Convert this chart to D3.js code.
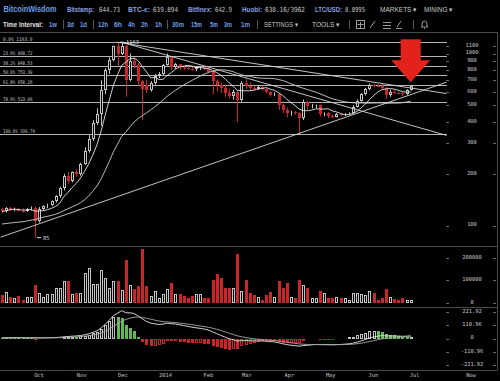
<!DOCTYPE html>
<html>
<head>
<meta charset="utf-8">
<script src="https://cdnjs.cloudflare.com/ajax/libs/d3/7.8.5/d3.min.js"></script>
<style>
  body { margin: 0; background: #000; }
  svg { display: block; }
  text { font-family: "DejaVu Sans Mono", monospace; }
</style>
</head>
<body>
<svg id="chart" width="500" height="381"></svg>
<script>
// ---- data ----
var candleStart = "2013-09-07";   // first 3-day candle
var candleDays = 3;

// closes before the visible window (only used to warm up the moving averages)
var priorCloses = [108, 100, 104, 108, 102, 97, 90, 80, 70, 76, 93, 98, 90, 91, 95, 96, 104, 104, 106, 103,
                   104, 99, 102, 113, 113, 118, 127, 127, 122];

// open, high, low, close
var ohlc = [
  [124,127,118,121],[121,128,119,126],[126,128,122,123],[123,127,121,125],[125,127,121,122],
  [122,126,119,121],[121,126,120,124],[124,129,122,127],[127,129,85,106],[106,128,104,125],
  [125,131,122,129],[129,134,126,132],[132,140,130,138],[138,150,136,148],[148,168,145,165],
  [165,200,160,195],[195,205,175,182],[182,206,178,204],[204,212,192,198],[198,232,195,228],
  [228,285,225,272],[272,335,265,318],[318,410,310,395],[395,480,385,445],[445,700,380,610],
  [610,820,580,800],[800,950,760,920],[920,1110,900,1100],[1100,1163,850,1000],[1000,1150,980,1100],
  [1100,1120,560,700],[700,1000,690,900],[900,950,820,860],[860,880,650,690],[690,700,410,620],
  [660,700,590,610],[610,690,600,670],[670,760,660,740],[740,780,720,760],[760,870,750,860],
  [860,1000,850,950],[950,970,800,830],[830,880,815,865],[865,870,800,830],[830,845,800,822],
  [822,840,805,815],[815,835,795,808],[808,840,790,830],[830,845,800,835],[835,840,800,815],
  [815,820,770,785],[785,800,580,690],[690,705,600,655],[655,680,590,630],[630,660,560,590],
  [590,625,545,565],[565,615,540,600],[600,605,400,540],[540,690,525,675],[675,712,620,650],
  [650,680,610,630],[630,650,610,622],[622,650,615,640],[640,650,610,622],[622,628,585,598],
  [598,605,560,575],[575,595,565,585],[585,590,470,500],[500,510,450,470],[470,485,425,448],
  [448,465,435,455],[455,462,440,448],[448,455,340,420],[420,540,410,520],[520,530,470,492],
  [492,510,480,500],[498,505,480,502],[502,505,430,445],[445,455,432,448],[448,455,420,435],
  [435,440,420,428],[428,450,425,445],[445,450,430,438],[438,450,432,446],[446,455,440,452],
  [452,500,448,490],[490,540,485,530],[530,590,525,580],[580,630,570,620],[620,670,610,660],
  [660,670,635,648],[650,662,640,645],[645,670,620,632],[632,640,545,570],[570,615,560,600],
  [600,612,585,592],[592,600,580,588],[588,595,565,578],[578,620,575,612],[612,650,608,644.73]
];

var volume = [
  34000,49000,27000,20000,31000,12000,24000,24000,79000,42000,
  27000,37000,37000,64000,64000,98000,98000,37000,42000,45000,
  131000,154000,82000,82000,146000,109000,64000,97000,97000,57000,
  188000,79000,60000,76000,238000,76000,31000,54000,20000,37000,
  60000,87000,39000,39000,30000,20000,30000,39000,37000,20000,
  20000,101000,127000,109000,64000,64000,66000,216000,54000,101000,
  42000,34000,27000,12000,34000,49000,27000,95000,64000,86000,
  27000,20000,101000,79000,64000,23000,23000,52000,42000,23000,
  23000,27000,20000,20000,12000,42000,42000,37000,34000,54000,
  42000,12000,23000,61000,24000,17000,12000,20000,12000,12000
];

var fibPct = ["0.0%", "23.6%", "38.2%", "50.0%", "61.8%", "78.6%", "100.0%"];
var fibPrice = [1163.0, 968.72, 848.53, 753.39, 658.26, 523.06, 339.79];

var priceTicks = [1100, 1000, 900, 800, 700, 600, 500, 400, 300, 200, 100];
var volumeTicks = [200000, 100000, 0];
var macdTicks = [221.92, 110.96, 0, -110.96, -221.92];

var monthDates = ["2013-10-01","2013-11-01","2013-12-01","2014-01-01","2014-02-01",
                  "2014-03-01","2014-04-01","2014-05-01","2014-06-01","2014-07-01"];
var monthLabels = ["Oct","Nov","Dec","2014","Feb","Mar","Apr","May","Jun","Jul"];

// hand-drawn trend lines: [date, price] -> [date, price]
var trendLines = [
  [["2013-11-30", 1163], ["2014-07-27", 585]],
  [["2013-12-03", 1163], ["2014-07-27", 334]],
  [["2013-09-06", 85.5], ["2014-07-27", 681]]
];

var tickers = [["Bitstamp:", "644.73"], ["BTC-e:", "639.894"], ["Bitfinex:", "642.9"],
               ["Huobi:", "638.16/3962"], ["LTC/USD:", "8.8995"]];
var menus = ["MARKETS \u25BE", "MINING \u25BE"];
var intervals = ["1w", "3d", "1d", "12h", "6h", "4h", "2h", "1h", "30m", "15m", "5m", "3m", "1m"];
var tools = ["SETTINGS \u25BE", "TOOLS \u25BE"];

// ---- setup ----
var parse = d3.timeParse("%Y-%m-%d");
var svg = d3.select("#chart");
var UP = "#c4c4c4", DOWN = "#cc2529", GREEN = "#5dbb4f", LINE = "#b4b4b4";

svg.append("rect").attr("width", 500).attr("height", 381).attr("fill", "#000");

var x = d3.scaleTime().domain([parse("2013-10-01"), parse("2014-07-01")]).range([35, 410.7]);
var y = d3.scaleLog().domain([100, 1000]).range([225.5, 53.5]);
var yVol = d3.scaleLinear().domain([0, 200000]).range([302.7, 257.7]);
var yMacd = d3.scaleLinear().domain([macdTicks[4], macdTicks[0]]).range([365.3, 311.7]);

var start = parse(candleStart);
var candles = ohlc.map(function (d, i) {
  return { date: d3.timeDay.offset(start, candleDays * i), o: d[0], h: d[1], l: d[2], c: d[3],
           v: volume[i], up: d[3] >= d[0] };
});
function px(d) { return Math.round(x(d.date)); }

// indicators (MA7, MA30, MACD 12/26/9)
var allCloses = priorCloses.concat(ohlc.map(function (d) { return d[3]; }));
var off = priorCloses.length;
function sma(arr, n) {
  return arr.map(function (v, i) { return i < n - 1 ? null : d3.mean(arr.slice(i - n + 1, i + 1)); });
}
function ema(arr, n) {
  var k = 2 / (n + 1), prev = arr[0];
  return arr.map(function (v, i) { prev = i ? prev + k * (v - prev) : v; return prev; });
}
var ma7 = sma(allCloses, 7).slice(off);
var ma30 = sma(allCloses, 30).slice(off);
var e12 = ema(allCloses, 12), e26 = ema(allCloses, 26);
var difAll = e12.map(function (v, i) { return v - e26[i]; });
var deaAll = ema(difAll, 9);
var histAll = difAll.map(function (v, i) { return 2 * (v - deaAll[i]); });
candles.forEach(function (d, i) {
  d.ma7 = ma7[i]; d.ma30 = ma30[i];
  d.dif = difAll[i + off]; d.dea = deaAll[i + off]; d.hist = histAll[i + off];
  d.prevHist = histAll[i + off - 1];
});

// clip areas
var defs = svg.append("defs");
[["clipMain", 33, 213], ["clipVol", 247, 59], ["clipMacd", 308, 62]].forEach(function (c) {
  defs.append("clipPath").attr("id", c[0]).append("rect")
    .attr("x", 0).attr("y", c[1]).attr("width", 447).attr("height", c[2]);
});

// ---- header ----
var header = svg.append("g").style("font-family", "'Liberation Sans', Arial, sans-serif");
function hText(t, xPos, yPos, w, color, bold, fs, mono) {
  header.append("text").attr("x", xPos).attr("y", yPos).text(t)
    .attr("fill", color).attr("font-size", fs || 7.5)
    .attr("font-weight", bold ? "bold" : "normal")
    .style("font-family", mono ? "'DejaVu Sans Mono', monospace" : "'Liberation Sans', Arial, sans-serif")
    .attr("textLength", w).attr("lengthAdjust", "spacingAndGlyphs");
}
hText("BitcoinWisdom", 3.5, 12, 53, "#6d9fe8", true, 8.5);
var tickLabelX = [67, 128, 188, 242, 315], tickLabelW = [27, 22, 24, 20, 27];
var tickValX = [99, 153, 215, 265, 345], tickValW = [21, 25, 17, 40, 20];
tickers.forEach(function (t, i) {
  hText(t[0], tickLabelX[i], 11.5, tickLabelW[i], "#8c9fe4", true, 7);
  hText(t[1], tickValX[i], 11.5, tickValW[i], "#c8c8c8", false, 7, true);
});
hText(menus[0], 380, 11.5, 37, "#c8c8c8", false, 7);
hText(menus[1], 424, 11.5, 29, "#c8c8c8", false, 7);

hText("Time Interval:", 3, 27, 40, "#e0e0e0", true, 7);
var intX = [49, 67, 80, 98, 114, 128, 141, 155, 172, 191, 210, 224, 241];
var intW = [8, 7, 7, 10, 8, 7, 7, 7, 12, 11, 8, 8, 9];
intervals.forEach(function (t, i) { hText(t, intX[i], 27, intW[i], "#6d9fe8", true, 7); });
[63, 93, 167, 257, 349, 413].forEach(function (sx) {
  header.append("line").attr("x1", sx + 0.5).attr("x2", sx + 0.5).attr("y1", 20).attr("y2", 29)
    .attr("stroke", "#555");
});
hText(tools[0], 264, 27, 34, "#c8c8c8", false, 7);
hText(tools[1], 312, 27, 28, "#c8c8c8", false, 7);

// tool icons
var icons = header.append("g").attr("stroke", "#9a9a9a").attr("fill", "none");
icons.append("rect").attr("x", 356.5).attr("y", 20.5).attr("width", 8).attr("height", 8);
icons.append("path").attr("d", "M360.5,22v6M357.5,24.5h6");
icons.append("path").attr("d", "M370,28L375,21");
icons.append("path").attr("d", "M383,22.5h8M383,25.5h8M383,28.5h8").attr("stroke-width", 1.2);
icons.append("path").attr("d", "M396,28.5h6M397,27L401,21");
icons.append("path").attr("d", "M421,27h7M422,27v-3a2.5,3 0 0 1 5,0v3M424.5,28v1");

// panel separators
var frame = svg.append("g").attr("stroke", "#4a4a4a").attr("shape-rendering", "crispEdges");
[32, 246, 307, 370].forEach(function (sy) {
  frame.append("line").attr("x1", 0).attr("x2", 497).attr("y1", sy + 0.5).attr("y2", sy + 0.5);
});
frame.append("line").attr("x1", 497.5).attr("x2", 497.5).attr("y1", 32).attr("y2", 370);

// ---- main price panel ----
var main = svg.append("g").attr("clip-path", "url(#clipMain)");

// fibonacci levels
main.append("g").selectAll("line").data(fibPrice).join("line")
  .attr("x1", 0).attr("x2", 447)
  .attr("y1", function (d) { return Math.round(y(d)) + 0.5; })
  .attr("y2", function (d) { return Math.round(y(d)) + 0.5; })
  .attr("stroke", LINE).attr("shape-rendering", "crispEdges");

svg.append("g").selectAll("text").data(fibPrice).join("text")
  .attr("x", 3).attr("y", function (d) { return Math.round(y(d)) - 1.5; })
  .attr("fill", "#c8c8c8").attr("font-size", 5.2)
  .attr("textLength", function (d, i) { return (fibPct[i].length + 1 + d.toFixed(2).length) * 2.45; })
  .attr("lengthAdjust", "spacingAndGlyphs")
  .text(function (d, i) { return fibPct[i] + " " + (i === 0 ? d.toFixed(1) : d.toFixed(2)); });

// wicks
main.append("g").selectAll("line").data(candles).join("line")
  .attr("x1", function (d) { return px(d) + 0.5; })
  .attr("x2", function (d) { return px(d) + 0.5; })
  .attr("y1", function (d) { return y(d.h); })
  .attr("y2", function (d) { return y(d.l); })
  .attr("stroke", function (d) { return d.up ? UP : DOWN; });

// bodies: up = hollow, down = filled red
function bodies(g, data, xf, topF, botF, filled, color) {
  g.selectAll("rect").data(data).join("rect")
    .attr("x", function (d) { return filled(d) ? xf(d) - 1 : xf(d) - 0.5; })
    .attr("y", function (d) { var t = Math.round(topF(d)); return filled(d) ? t : t + 0.5; })
    .attr("width", function (d) { return filled(d) ? 3 : 2; })
    .attr("height", function (d) {
      var h = Math.max(1, Math.round(botF(d)) - Math.round(topF(d)));
      return filled(d) ? h : Math.max(h - 1, 0);
    })
    .attr("fill", function (d) { return filled(d) ? color(d) : "#000"; })
    .attr("stroke", function (d) { return filled(d) ? "none" : color(d); });
}
bodies(main.append("g"), candles, px,
  function (d) { return y(Math.max(d.o, d.c)); },
  function (d) { return y(Math.min(d.o, d.c)); },
  function (d) { return !d.up; },
  function (d) { return d.up ? UP : DOWN; });

// moving averages
[["ma7", "#e6e6e6"], ["ma30", "#d0d0d0"]].forEach(function (m) {
  main.append("path").datum(candles.filter(function (d) { return d[m[0]] != null; }))
    .attr("fill", "none").attr("stroke", m[1]).attr("stroke-width", 0.9)
    .attr("d", d3.line().x(function (d) { return x(d.date); }).y(function (d) { return y(d[m[0]]); }));
});

// trend lines
main.append("g").selectAll("line").data(trendLines).join("line")
  .attr("x1", function (d) { return x(parse(d[0][0])); })
  .attr("y1", function (d) { return y(d[0][1]); })
  .attr("x2", function (d) { return x(parse(d[1][0])); })
  .attr("y2", function (d) { return y(d[1][1]); })
  .attr("stroke", "#d8d8d8").attr("stroke-width", 0.9);

// high / low markers
var hi = d3.greatest(candles, function (d) { return d.h; });
var lo = d3.least(candles, function (d) { return d.l; });
[[hi, hi.h], [lo, lo.l]].forEach(function (m) {
  var cx = px(m[0]), cy = y(m[1]);
  svg.append("line").attr("x1", cx + 2).attr("x2", cx + 6).attr("y1", cy).attr("y2", cy)
    .attr("stroke", "#ddd");
  svg.append("text").attr("x", cx + 8).attr("y", cy).attr("dy", "0.35em")
    .attr("fill", "#ddd").attr("font-size", 5.4).text(d3.format("d")(m[1]));
});

// red arrow over the last candle
var last = candles[candles.length - 1];
var ax = x(last.date), tipY = y(last.h) - 3.5;
svg.append("path")
  .attr("d", "M" + ax + "," + tipY + "L" + (ax - 19.5) + "," + (tipY - 22) + "H" + (ax - 10) +
    "V" + (tipY - 43) + "H" + (ax + 10) + "V" + (tipY - 22) + "H" + (ax + 19.5) + "Z")
  .attr("fill", "#e3221c");

// price axis
var axisG = svg.append("g").attr("fill", "#c8c8c8").attr("font-size", 5.4).attr("text-anchor", "middle");
function axisLabels(ticks, scale, fmt) {
  ticks.forEach(function (t) {
    var ty = scale(t);
    axisG.append("text").attr("x", 472).attr("y", ty - 1).attr("dy", "0.35em").text(fmt(t));
    [446, 493].forEach(function (tx) {
      svg.append("line").attr("x1", tx).attr("x2", tx + 3).attr("y1", Math.round(ty) + 0.5)
        .attr("y2", Math.round(ty) + 0.5).attr("stroke", "#666");
    });
  });
}
axisLabels(priceTicks, y, String);
axisLabels(volumeTicks, yVol, String);
axisLabels(macdTicks, yMacd, function (t) { return t === 0 ? "0" : t.toFixed(2); });

// ---- volume panel ----
var volG = svg.append("g").attr("clip-path", "url(#clipVol)");
bodies(volG, candles, px,
  function (d) { return yVol(d.v); },
  function () { return yVol(0); },
  function (d) { return !d.up; },
  function (d) { return d.up ? UP : DOWN; });

// ---- MACD panel ----
var macdG = svg.append("g").attr("clip-path", "url(#clipMacd)");
function histColor(d) {
  if (d.hist >= 0) return d.hist >= d.prevHist ? UP : GREEN;
  return DOWN;
}
function histFilled(d) {
  return d.hist < d.prevHist;
}
bodies(macdG, candles, px,
  function (d) { return yMacd(Math.max(d.hist, 0)); },
  function (d) { return yMacd(Math.min(d.hist, 0)); },
  histFilled, histColor);

[["dif", "#e8e8e8"], ["dea", "#a8a8a8"]].forEach(function (m) {
  macdG.append("path").datum(candles)
    .attr("fill", "none").attr("stroke", m[1]).attr("stroke-width", 0.9)
    .attr("d", d3.line().x(function (d) { return x(d.date); }).y(function (d) { return yMacd(d[m[0]]); }));
});

// ---- time axis ----
svg.append("g").attr("fill", "#c0c0c0").attr("font-size", 5.4).attr("text-anchor", "middle")
  .selectAll("text").data(monthDates).join("text")
  .attr("x", function (d) { return x(parse(d)) + 4; })
  .attr("y", 375).attr("dy", "0.35em")
  .text(function (d, i) { return monthLabels[i]; });
svg.append("text").attr("x", 471).attr("y", 375).attr("dy", "0.35em")
  .attr("fill", "#c0c0c0").attr("font-size", 5.4).attr("text-anchor", "middle").text("Now");
</script>
</body>
</html>
